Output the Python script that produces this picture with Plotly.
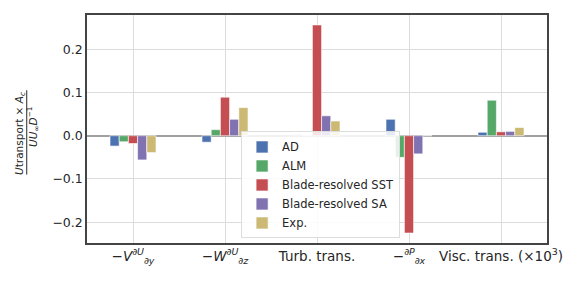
import plotly.graph_objects as go

categories = ["V", "W", "Turb", "P", "Visc"]
tick_labels = [
    "−<i>V</i><sup>∂<i>U</i></sup><sub>∂<i>y</i></sub>",
    "−<i>W</i><sup>∂<i>U</i></sup><sub>∂<i>z</i></sub>",
    "Turb. trans.",
    "−<sup>∂<i>P</i></sup><sub>∂<i>x</i></sub>",
    "Visc. trans. (×10<sup>3</sup>)",
]
series_names = ["AD", "ALM", "Blade-resolved SST", "Blade-resolved SA", "Exp."]
ad = [-0.024, -0.015, 0.003, 0.038, 0.008]
alm = [-0.014, 0.014, 0.001, -0.050, 0.082]
sst = [-0.018, 0.089, 0.256, -0.225, 0.009]
sa = [-0.056, 0.038, 0.046, -0.042, 0.010]
exp_ = [-0.039, 0.065, 0.034, 0.0, 0.019]
series_values = [ad, alm, sst, sa, exp_]
colors = ["#4C72B0", "#55A868", "#C44E52", "#8172B2", "#CCB974"]

fig = go.Figure()
for name, vals, c in zip(series_names, series_values, colors):
    fig.add_trace(go.Bar(
        x=list(range(len(categories))), y=vals, name=name,
        marker=dict(color=c, line=dict(color="white", width=0.6)),
    ))

font = "DejaVu Sans, Liberation Sans, sans-serif"
fig.update_layout(
    width=581, height=291,
    margin=dict(l=87, r=34, t=15, b=48),
    paper_bgcolor="white", plot_bgcolor="white",
    barmode="group", bargap=0.5, bargroupgap=0,
    font=dict(family=font, size=11, color="#262626"),
    showlegend=True,
    legend=dict(
        x=0.335, y=0.02, xanchor="left", yanchor="bottom",
        bgcolor="rgba(255,255,255,0.85)", bordercolor="#dddddd", borderwidth=1,
        font=dict(size=11.5, color="#262626"), tracegroupgap=0,
    ),
    xaxis=dict(
        range=[-0.5, 4.5], tickmode="array",
        tickvals=list(range(len(categories))), ticktext=tick_labels,
        showgrid=True, gridcolor="#dcdcdc", gridwidth=1,
        showline=True, linecolor="#444444", linewidth=1.5, mirror=True,
        ticks="", tickfont=dict(size=13.5),
    ),
    yaxis=dict(
        range=[-0.248, 0.279], tickvals=[-0.2, -0.1, 0.0, 0.1, 0.2],
        tickformat=".1f",
        showgrid=True, gridcolor="#dcdcdc", gridwidth=1,
        zeroline=True, zerolinecolor="#a0a0a0", zerolinewidth=1.5,
        showline=True, linecolor="#444444", linewidth=1.5, mirror=True,
        ticks="", tickfont=dict(size=12.5),
    ),
)

# y-axis title as a stacked fraction
fig.add_annotation(
    xref="paper", yref="paper", x=-0.146, y=0.482, xanchor="center", yanchor="middle",
    text="<i>U</i>transport × <i>A<sub>c</sub></i>", textangle=-90, showarrow=False,
    font=dict(size=10.5, color="#262626"),
)
fig.add_annotation(
    xref="paper", yref="paper", x=-0.117, y=0.51, xanchor="center", yanchor="middle",
    text="<i>UU</i><sub>∞</sub><i>D</i><sup>−1</sup>", textangle=-90, showarrow=False,
    font=dict(size=10.5, color="#262626"),
)
fig.add_shape(
    type="line", xref="paper", yref="paper",
    x0=-0.131, x1=-0.131, y0=0.30, y1=0.67,
    line=dict(color="#262626", width=1),
)

fig.write_html("out.html", config={"displayModeBar": False},
               post_script="document.body.style.margin='0';")
